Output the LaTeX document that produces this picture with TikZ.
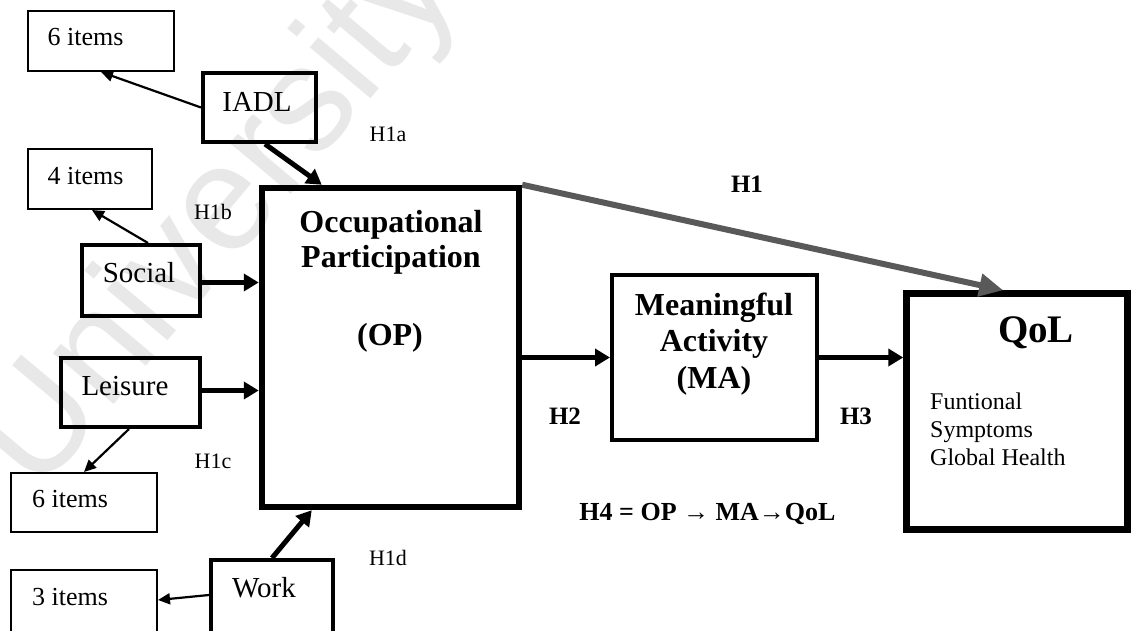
\documentclass[tikz,border=0pt]{standalone}
\usepackage{fontspec}
\setmainfont{Liberation Serif}
\newfontfamily\wmfont{Liberation Sans}
\usetikzlibrary{arrows.meta,calc}
\definecolor{arrowgray}{HTML}{595959}
\definecolor{wmgray}{HTML}{E8E8E8}
\newcommand\setpx[1]{\fontsize{#1}{#1}\selectfont}

\begin{document}
\begin{tikzpicture}[x=1pt,y=-1pt,
  itembox/.style={draw, rectangle, line width=2pt, inner sep=0pt},
  catbox/.style={draw, rectangle, line width=4pt, inner sep=0pt},
  heavybox/.style={draw, rectangle, line width=6.5pt, inner sep=0pt},
  medbox/.style={draw, rectangle, line width=4pt, inner sep=0pt},
  thinarrow/.style={line width=2.2pt, -{Triangle[length=12pt,width=11pt]}},
  thickarrow/.style={line width=5pt, -{Triangle[length=15pt,width=17pt]}},
  grayarrow/.style={draw=arrowgray, line width=6pt, -{Triangle[length=24pt,width=22pt]}},
  itemlbl/.style={anchor=base, inner sep=0pt, font=\setpx{26}},
  catlbl/.style={anchor=base, inner sep=0pt, font=\setpx{29}},
  hyplbl/.style={anchor=base, inner sep=0pt, font=\setpx{22}},
  hypbold/.style={anchor=base, inner sep=0pt, font=\bfseries\setpx{25}},
  titlelbl/.style={anchor=base, inner sep=0pt, font=\bfseries\setpx{32}},
  sublbl/.style={anchor=base west, inner sep=0pt, font=\setpx{24}}]

% canvas
\fill[white] (0,0) rectangle (1136,631);
\useasboundingbox (0,0) rectangle (1136,631);
\clip (0,0) rectangle (1136,631);

% faint background lettering
\node[anchor=base west, inner sep=0pt, rotate=50, text=wmgray,
      font=\wmfont\setpx{150}] (wm) at (38,496) {University};

% item boxes
\node[itembox, minimum width=146pt, minimum height=60pt] (it1) at (101,41) {};
\node[itembox, minimum width=124pt, minimum height=60pt] (it2) at (90,179) {};
\node[itembox, minimum width=146pt, minimum height=59pt] (it3) at (84,502.5) {};
\node[itembox, minimum width=146pt, minimum height=75pt] (it4) at (84,607.5) {};

% category boxes
\node[catbox, minimum width=113pt, minimum height=69pt] (iadl) at (259.5,107.5) {};
\node[catbox, minimum width=118pt, minimum height=71pt] (social) at (141,280.5) {};
\node[catbox, minimum width=139pt, minimum height=69pt] (leisure) at (130.5,392.5) {};
\node[catbox, minimum width=122pt, minimum height=85pt] (work) at (272,602.5) {};

% construct boxes
\node[heavybox, minimum width=257pt, minimum height=319pt] (op) at (390.5,347.5) {};
\node[medbox, minimum width=205pt, minimum height=165pt] (ma) at (714.5,357.5) {};
\node[heavybox, minimum width=221pt, minimum height=236pt] (qol) at (1017,411.5) {};

% box texts
\node[itemlbl] (t1) at (85.5,46) {6 items};
\node[itemlbl] (t2) at (85.5,185) {4 items};
\node[itemlbl] (t3) at (70,507) {6 items};
\node[itemlbl] (t4) at (70,605) {3 items};
\node[catlbl] (tiadl) at (257,112) {IADL};
\node[catlbl] (tsocial) at (139,283) {Social};
\node[catlbl] (tleisure) at (125,395) {Leisure};
\node[catlbl] (twork) at (264,597) {Work};
\node[titlelbl] (op1) at (391,233) {Occupational};
\node[titlelbl] (op2) at (391,268) {Participation};
\node[titlelbl] (op3) at (390,345) {(OP)};
\node[titlelbl] (ma1) at (714,316) {Meaningful};
\node[titlelbl] (ma2) at (714,352) {Activity};
\node[titlelbl] (ma3) at (714,388) {(MA)};
\node[anchor=base, inner sep=0pt, font=\bfseries\setpx{39}] (q1) at (1036,342) {QoL};
\node[sublbl] (q2) at (930,409) {Funtional};
\node[sublbl] (q3) at (930,437) {Symptoms};
\node[sublbl] (q4) at (930,465) {Global Health};

% hypothesis labels
\node[hyplbl] (h1a) at (388,142) {H1a};
\node[hyplbl] (h1b) at (213,220) {H1b};
\node[hyplbl] (h1c) at (213,468) {H1c};
\node[hyplbl] (h1d) at (388,565) {H1d};
\node[hypbold] (h1) at (747,193) {H1};
\node[hypbold] (h2) at (565,424) {H2};
\node[hypbold] (h3) at (856,424) {H3};
\node[anchor=base, inner sep=0pt, font=\bfseries\setpx{26}] (h4) at (707.5,520) {H4 = OP → MA→QoL};

% indicator arrows
\draw[thinarrow] (iadl.west) -- (it1.south);
\draw[thinarrow] ([xshift=7pt]social.north) -- ([xshift=2pt]it2.south);
\draw[thinarrow] ([xshift=-1.5pt]leisure.south) -- (it3.north);
\draw[thinarrow] ([yshift=7.5pt]work.west) -- ([yshift=7.5pt]it4.east);

% paths into OP
\coordinate (socout) at ([yshift=-2pt]social.east);
\coordinate (leiout) at ([yshift=2pt]leisure.east);
\draw[thickarrow] ([xshift=5.5pt]iadl.south) -- ([xshift=63pt]op.north west);
\draw[thickarrow] (socout) -- (socout -| op.west);
\draw[thickarrow] (leiout) -- (leiout -| op.west);
\draw[thickarrow] (work.north) -- ([xshift=53pt]op.south west);

% structural paths
\draw[thickarrow] (op.east |- ma.west) -- (ma.west);
\draw[thickarrow] (ma.east) -- (qol.west |- ma.east);
\draw[grayarrow] (op.north east) -- ([xshift=100pt]qol.north west);

\end{tikzpicture}
\end{document}
